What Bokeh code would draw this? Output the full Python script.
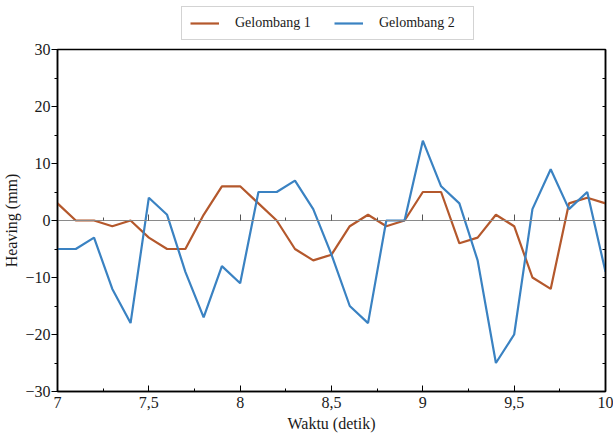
from bokeh.plotting import figure
from bokeh.layouts import column
from bokeh.models import (Range1d, LinearAxis, SingleIntervalTicker, CustomJSTickFormatter,
                          Legend, LegendItem, ColumnDataSource)
from bokeh.embed import file_html
from bokeh.resources import INLINE

# ---- data ----
waktu = [7.0, 7.1, 7.2, 7.3, 7.4, 7.5, 7.6, 7.7, 7.8, 7.9,
         8.0, 8.1, 8.2, 8.3, 8.4, 8.5, 8.6, 8.7, 8.8, 8.9,
         9.0, 9.1, 9.2, 9.3, 9.4, 9.5, 9.6, 9.7, 9.8, 9.9, 10.0]
gelombang_1 = [3, 0, 0, -1, 0, -3, -5, -5, 1, 6,
               6, 3, 0, -5, -7, -6, -1, 1, -1, 0,
               5, 5, -4, -3, 1, -1, -10, -12, 3, 4, 3]
gelombang_2 = [-5, -5, -3, -12, -18, 4, 1, -9, -17, -8,
               -11, 5, 5, 7, 2, -6, -15, -18, 0, 0,
               14, 6, 3, -7, -25, -20, 2, 9, 2, 5, -9]
series_names = ["Gelombang 1", "Gelombang 2"]
x_label = "Waktu (detik)"
y_label = "Heaving (mm)"

FONT = "Liberation Serif"
ORANGE = "#B4582C"
BLUE = "#3A82C2"
TXT = "#1a1a1a"
LW = 2.2

src = ColumnDataSource(dict(t=waktu, g1=gelombang_1, g2=gelombang_2))
no_labels = CustomJSTickFormatter(code="return ''")

# ---------------- main chart ----------------
p = figure(width=613, height=399, x_range=Range1d(7, 10), y_range=Range1d(-30, 30),
           output_backend="svg", toolbar_location=None,
           x_axis_location=None, y_axis_location=None,
           min_border_left=56, min_border_right=8, min_border_top=8, min_border_bottom=49)
p.grid.grid_line_color = None
p.outline_line_color = "black"
p.outline_line_width = 1.5
p.background_fill_color = "white"
p.border_fill_color = "white"

# zero line axis (ticks pointing up)
zero_axis = LinearAxis(fixed_location=0,
                       ticker=SingleIntervalTicker(interval=0.5, num_minor_ticks=2),
                       formatter=no_labels,
                       major_label_text_font_size="0px", major_label_standoff=0,
                       axis_line_color="#8a8a8a", axis_line_width=1.2,
                       major_tick_in=6, major_tick_out=0, minor_tick_in=3, minor_tick_out=0,
                       major_tick_line_color="#555555", minor_tick_line_color="#555555")
p.add_layout(zero_axis, "below")

xaxis = LinearAxis(ticker=SingleIntervalTicker(interval=0.5, num_minor_ticks=2),
                   formatter=CustomJSTickFormatter(code="return tick.toString().replace('.', ',')"),
                   axis_label=x_label,
                   major_tick_in=6, major_tick_out=0, minor_tick_in=3, minor_tick_out=0,
                   axis_line_color="black", axis_line_width=1.5,
                   major_label_standoff=5, axis_label_standoff=4,
                   major_label_text_font=FONT, major_label_text_font_size="16px",
                   major_label_text_color=TXT,
                   axis_label_text_font=FONT, axis_label_text_font_size="16px",
                   axis_label_text_font_style="normal", axis_label_text_color=TXT)
p.add_layout(xaxis, "below")

yaxis = LinearAxis(ticker=SingleIntervalTicker(interval=10, num_minor_ticks=2),
                   axis_label=y_label,
                   major_tick_in=0, major_tick_out=6, minor_tick_in=0, minor_tick_out=3,
                   axis_line_color="black", axis_line_width=1.5,
                   major_label_standoff=1, axis_label_standoff=2,
                   major_label_text_font=FONT, major_label_text_font_size="16px",
                   major_label_text_color=TXT,
                   axis_label_text_font=FONT, axis_label_text_font_size="16px",
                   axis_label_text_font_style="normal", axis_label_text_color=TXT)
p.add_layout(yaxis, "left")

raxis = LinearAxis(ticker=SingleIntervalTicker(interval=5, num_minor_ticks=0),
                   formatter=no_labels,
                   major_label_text_font_size="0px", major_label_standoff=0,
                   major_tick_in=3, major_tick_out=0, minor_tick_in=0, minor_tick_out=0,
                   axis_line_color="black", axis_line_width=1.5)
p.add_layout(raxis, "right")

p.line("t", "g1", source=src, line_color=ORANGE, line_width=LW)
p.line("t", "g2", source=src, line_color=BLUE, line_width=LW)

# ---------------- legend strip (frame aligned with the chart's frame) ----------------
lg = figure(width=613, height=41, x_range=Range1d(0, 1), y_range=Range1d(0, 1),
            output_backend="svg", toolbar_location=None,
            x_axis_location=None, y_axis_location=None,
            min_border_left=0, min_border_right=0, min_border_top=0, min_border_bottom=0)
lg.grid.grid_line_color = None
lg.outline_line_color = None
lg.background_fill_color = "white"
lg.border_fill_color = "white"
# same series, outside this strip's ranges: only their legend swatches show
k1 = lg.line("t", "g1", source=src, line_color=ORANGE, line_width=LW)
k2 = lg.line("t", "g2", source=src, line_color=BLUE, line_width=LW)

legend = Legend(items=[LegendItem(label=series_names[0], renderers=[k1]),
                       LegendItem(label=series_names[1], renderers=[k2])],
                orientation="horizontal", location=(124, 1), margin=0,
                padding=8, spacing=13, label_standoff=16,
                glyph_width=29, glyph_height=16, label_height=16, label_width=86,
                label_text_font=FONT, label_text_font_size="14px", label_text_color=TXT,
                border_line_color="#a8a8a8", border_line_width=1,
                background_fill_color="white", background_fill_alpha=1)
lg.add_layout(legend, "center")

layout = column(lg, p, spacing=0)
open("out.html", "w").write(file_html(layout, INLINE))
